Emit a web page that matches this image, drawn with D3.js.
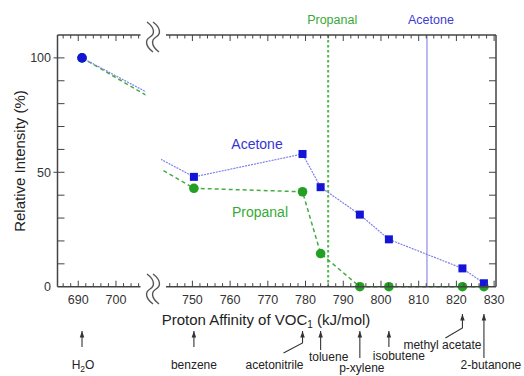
<!DOCTYPE html>
<html>
<head>
<meta charset="utf-8">
<script src="https://cdn.jsdelivr.net/npm/d3@7"></script>
<style>
  body { margin: 0; background: #fff; }
  text { font-family: "Liberation Sans", Arial, sans-serif; }
</style>
</head>
<body>
<div id="chart"></div>
<script>
// data
const pa = [691, 750.4, 779.2, 784, 794.4, 802.1, 821.6, 827.3];
const acetone = [100, 48, 58, 43.5, 31.5, 20.7, 8, 1.5];
const propanal = [100, 43, 41.5, 14.5, 0, 0, 0, 0];
const molecules = ["H2O", "benzene", "acetonitrile", "toluene", "p-xylene", "isobutene", "methyl acetate", "2-butanone"];
const paPropanal = 786;
const paAcetone = 812.2;
const yTicks = [0, 50, 100];

const W = 524, H = 376;
const svg = d3.select("#chart").append("svg").attr("width", W).attr("height", H);

// broken x axis: two scales with the same px per kJ/mol
const xL = d3.scaleLinear().domain([684.5, 706.5]).range([57.5, 140.5]);
const xR = d3.scaleLinear().domain([743, 830.5]).range([166, 496]);
const y = d3.scaleLinear().domain([0, 110]).range([286.7, 35]);
const yTop = y(110), yBot = y(0);

const blue = "#1414d8", blueLine = "#8080e8", green = "#23a023", greenLine = "#43ad43";
const axisCol = "#444";

svg.append("defs").call(d => {
  d.append("clipPath").attr("id", "clipL").append("rect")
    .attr("x", 57.5).attr("y", 0).attr("width", 88).attr("height", H);
  d.append("clipPath").attr("id", "clipR").append("rect")
    .attr("x", 161).attr("y", 0).attr("width", 335).attr("height", H);
  d.append("marker").attr("id", "arr").attr("viewBox", "0 0 10 10")
    .attr("refX", 10).attr("refY", 5).attr("markerWidth", 6.5).attr("markerHeight", 6.5)
    .attr("markerUnits", "userSpaceOnUse")
    .attr("orient", "auto")
    .append("path").attr("d", "M0,1.5 L10,5 L0,8.5 Z").attr("fill", "#333");
});

// vertical reference lines
svg.append("line")
  .attr("x1", xR(paPropanal)).attr("x2", xR(paPropanal))
  .attr("y1", yTop).attr("y2", yBot)
  .attr("stroke", "#4fb84f").attr("stroke-width", 2).attr("stroke-dasharray", "2.5,2.5");
svg.append("line")
  .attr("x1", xR(paAcetone)).attr("x2", xR(paAcetone))
  .attr("y1", yTop).attr("y2", yBot)
  .attr("stroke", "#7676e0").attr("stroke-width", 1);

svg.append("text").attr("x", xR(paPropanal) + 4).attr("y", 24)
  .attr("text-anchor", "middle").attr("font-size", 12.5).attr("fill", "#3aa83a").text("Propanal");
svg.append("text").attr("x", xR(paAcetone) + 4).attr("y", 24)
  .attr("text-anchor", "middle").attr("font-size", 12.5).attr("fill", "#3d3dd0").text("Acetone");

// series lines, drawn in true coordinates and clipped per segment
const dataA = pa.map((p, i) => ({ x: p, v: acetone[i] }));
const dataP = pa.map((p, i) => ({ x: p, v: propanal[i] }));

[[xL, "clipL"], [xR, "clipR"]].forEach(([xs, clip]) => {
  const line = d3.line().x(d => xs(d.x)).y(d => y(d.v));
  svg.append("path").datum(dataP)
    .attr("clip-path", `url(#${clip})`)
    .attr("fill", "none").attr("stroke", greenLine).attr("stroke-width", 1.5)
    .attr("stroke-dasharray", "4,3").attr("d", line);
  svg.append("path").datum(dataA)
    .attr("clip-path", `url(#${clip})`)
    .attr("fill", "none").attr("stroke", blueLine).attr("stroke-width", 1.2)
    .attr("stroke-dasharray", "2,1")
    .attr("d", line);
});

const xPos = v => v < 720 ? xL(v) : xR(v);

// markers
svg.selectAll(".pdot").data(dataP).enter().append("circle")
  .attr("class", "pdot")
  .attr("cx", d => xPos(d.x)).attr("cy", d => y(d.v)).attr("r", 4.8)
  .attr("fill", green);
svg.selectAll(".asq").data(dataA.filter(d => d.x > 720)).enter().append("rect")
  .attr("class", "asq")
  .attr("x", d => xPos(d.x) - 4).attr("y", d => y(d.v) - 4)
  .attr("width", 8).attr("height", 8).attr("fill", blue);
svg.selectAll(".adot").data(dataA.filter(d => d.x < 720)).enter().append("circle")
  .attr("class", "adot")
  .attr("cx", d => xPos(d.x)).attr("cy", d => y(d.v)).attr("r", 4.8)
  .attr("fill", blue);

// in-plot series labels
svg.append("text").attr("x", 257).attr("y", 149).attr("text-anchor", "middle")
  .attr("font-size", 14).attr("fill", "#3535d2").text("Acetone");
svg.append("text").attr("x", 260).attr("y", 217).attr("text-anchor", "middle")
  .attr("font-size", 14).attr("fill", "#36aa36").text("Propanal");

// frame
const frame = svg.append("g").attr("stroke", axisCol).attr("stroke-width", 1.5).attr("fill", "none");
[xL, xR].forEach(xs => {
  const [a, b] = xs.range();
  frame.append("line").attr("x1", a).attr("x2", b).attr("y1", yTop).attr("y2", yTop);
  frame.append("line").attr("x1", a).attr("x2", b).attr("y1", yBot).attr("y2", yBot);
});
frame.append("line").attr("x1", xL.range()[0]).attr("x2", xL.range()[0]).attr("y1", yTop).attr("y2", yBot);
frame.append("line").attr("x1", xR.range()[1]).attr("x2", xR.range()[1]).attr("y1", yTop).attr("y2", yBot);

// x ticks (inward, top and bottom)
const ticks = svg.append("g").attr("stroke", axisCol).attr("stroke-width", 1);
[xL, xR].forEach(xs => {
  const [d0, d1] = xs.domain();
  d3.range(Math.ceil(d0 / 2) * 2, d1 + 0.01, 2).forEach(t => {
    const len = t % 10 === 0 ? 6 : 3.5;
    const px = xs(t);
    ticks.append("line").attr("x1", px).attr("x2", px).attr("y1", yBot).attr("y2", yBot - len);
    ticks.append("line").attr("x1", px).attr("x2", px).attr("y1", yTop).attr("y2", yTop + len);
  });
  d3.range(Math.ceil(d0 / 10) * 10, d1 + 0.01, 10).forEach(t => {
    svg.append("text").attr("x", xs(t)).attr("y", 304)
      .attr("text-anchor", "middle").attr("font-size", 12.5).attr("fill", "#333").text(t);
  });
});

// y ticks (inward on both sides)
d3.range(10, 110, 10).forEach(t => {
  const major = t % 50 === 0;
  const x0 = xL.range()[0], x1 = xR.range()[1];
  ticks.append("line").attr("x1", major ? x0 - 4 : x0).attr("x2", x0 + 7).attr("y1", y(t)).attr("y2", y(t));
  ticks.append("line").attr("x1", x1).attr("x2", x1 - 7).attr("y1", y(t)).attr("y2", y(t));
});
yTicks.forEach(t => {
  svg.append("text").attr("x", 51).attr("y", y(t) + 4.5)
    .attr("text-anchor", "end").attr("font-size", 12.5).attr("fill", "#333").text(t);
});

// axis break marks
function breakMark(cy) {
  const g = svg.append("g").attr("fill", "none").attr("stroke", "#555").attr("stroke-width", 1.4);
  [150, 156].forEach(cx => {
    g.append("path").attr("d",
      `M${cx - 3},${cy - 15} C${cx + 5},${cy - 9} ${cx + 5},${cy - 3} ${cx},${cy} ` +
      `C${cx - 5},${cy + 3} ${cx - 5},${cy + 9} ${cx + 3},${cy + 15}`);
  });
}
breakMark(37);
breakMark(289);

// axis titles
const xt = svg.append("text").attr("x", 266).attr("y", 325).attr("text-anchor", "middle")
  .attr("font-size", 15).attr("fill", "#222");
xt.append("tspan").text("Proton Affinity of VOC");
xt.append("tspan").attr("font-size", 10).attr("dy", 3).text("1");
xt.append("tspan").attr("dy", -3).text(" (kJ/mol)");

svg.append("text").attr("transform", "translate(25,161) rotate(-90)")
  .attr("text-anchor", "middle").attr("font-size", 15).attr("fill", "#222")
  .text("Relative Intensity (%)");

// molecule annotations with arrows
const annLayout = [
  { tip: 331, base: 347, bend: null, dx: 1, ly: 369 },
  { tip: 331, base: 347, bend: null, dx: 0, ly: 369 },
  { tip: 331, base: 343, bend: [-19, 353], dx: -28, ly: 369 },
  { tip: 331, base: 350, bend: null, dx: 8, ly: 361 },
  { tip: 331, base: 358, bend: null, dx: 2, ly: 372 },
  { tip: 331, base: 347, bend: null, dx: 10, ly: 360 },
  { tip: 314, base: 328, bend: [-17, 338], dx: -20, ly: 349 },
  { tip: 314, base: 358, bend: null, dx: 7, ly: 369 }
];
molecules.forEach((m, i) => {
  const L = annLayout[i];
  const px = xPos(pa[i]);
  let d = `M${px},${L.base} L${px},${L.tip}`;
  if (L.bend) d = `M${px + L.bend[0]},${L.bend[1]} L${px},${L.base} L${px},${L.tip}`;
  svg.append("path").attr("d", d).attr("fill", "none").attr("stroke", "#333")
    .attr("stroke-width", 1.1).attr("marker-end", "url(#arr)");
  const t = svg.append("text").attr("x", px + L.dx).attr("y", L.ly)
    .attr("text-anchor", "middle").attr("font-size", 12).attr("fill", "#222");
  if (m === "H2O") {
    t.append("tspan").text("H");
    t.append("tspan").attr("font-size", 8.5).attr("dy", 3).text("2");
    t.append("tspan").attr("dy", -3).text("O");
  } else {
    t.text(m);
  }
});
</script>
</body>
</html>
